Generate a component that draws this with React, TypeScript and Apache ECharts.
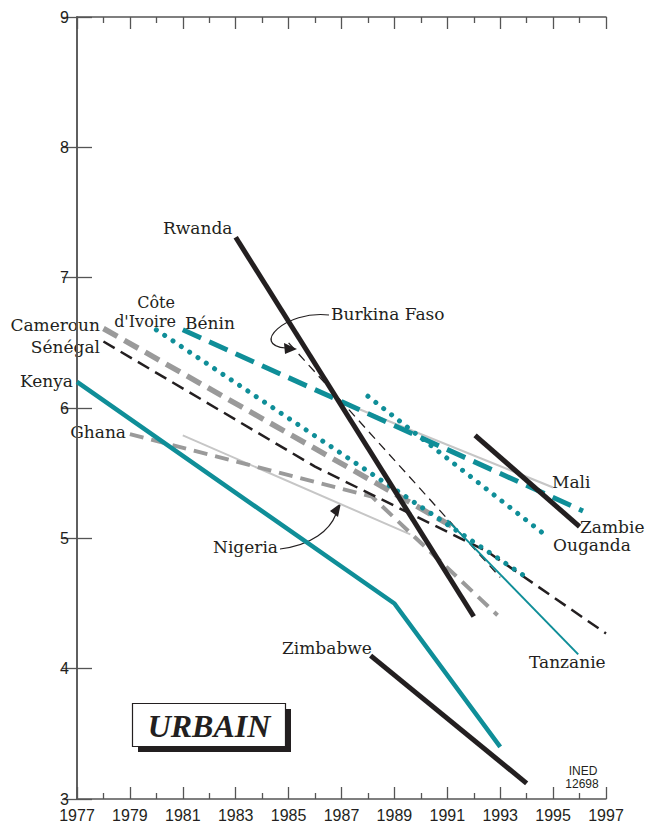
import React, { useEffect, useRef } from "react";
import * as echarts from "echarts";

const BASE_YEAR = 1977;
const xTickYears = [1977, 1979, 1981, 1983, 1985, 1987, 1989, 1991, 1993, 1995, 1997];
const yTicks = [3, 4, 5, 6, 7, 8, 9];

const rwandaYears = [1983, 1992];
const rwandaTFR = [7.31, 4.4];
const kenyaYears = [1977, 1989, 1993];
const kenyaTFR = [6.2, 4.5, 3.4];
const zimbabweYears = [1988.1, 1994];
const zimbabweTFR = [4.1, 3.12];
const zambieYears = [1992.05, 1996];
const zambieTFR = [5.79, 5.09];
const beninYears = [1981, 1996.13];
const beninTFR = [6.6, 5.21];
const maliYears = [1986.95, 1995];
const maliTFR = [6.05, 5.39];
const ougandaYears = [1988, 1994.8];
const ougandaTFR = [6.09, 5.01];
const coteIvoireYears = [1980, 1994];
const coteIvoireTFR = [6.6, 4.7];
const tanzanieYears = [1991, 1995.95];
const tanzanieTFR = [5.14, 4.11];
const camerounYears = [1978, 1991.2];
const camerounTFR = [6.61, 5.09];
const senegalYears = [1978, 1986, 1992.5, 1997];
const senegalTFR = [6.51, 5.55, 4.9, 4.27];
const burkinaYears = [1985, 1993];
const burkinaTFR = [6.5, 4.7];
const ghanaYears = [1979, 1988.15, 1992.9];
const ghanaTFR = [5.8, 5.32, 4.41];
const nigeriaYears = [1981, 1989.6];
const nigeriaTFR = [5.79, 5.03];

const TEAL = "#0f8e98";
const BLACK = "#231f20";
const GRAY = "#9a9a9a";
const LIGHT = "#c6c6c6";

const pts = (years: number[], vals: number[]) =>
  years.map((y, i) => [y - BASE_YEAR, vals[i]]);

function line(name: string, years: number[], vals: number[], lineStyle: any) {
  return {
    name,
    type: "line",
    data: pts(years, vals),
    symbol: "none",
    silent: true,
    lineStyle,
  };
}

const SERIF = "DejaVu Serif";

function label(text: string, x: number, y: number, align = "left", size = 17) {
  return {
    type: "text",
    x,
    y,
    silent: true,
    style: {
      text,
      fontFamily: SERIF,
      fontSize: size,
      fill: BLACK,
      textAlign: align,
      textVerticalAlign: "middle",
      verticalAlign: "middle",
    },
  };
}

export default function App() {
  const ref = useRef<HTMLDivElement>(null);

  useEffect(() => {
    if (!ref.current) return;
    const chart = echarts.init(ref.current, null, { renderer: "svg" });

    const axisLine = { show: true, lineStyle: { color: "#555", width: 1.5 } };
    const xCommon = {
      type: "value",
      min: 0,
      max: xTickYears[xTickYears.length - 1] - BASE_YEAR,
      interval: 2,
      splitLine: { show: false },
      axisLine,
      axisTick: { show: true, inside: true, length: 12, lineStyle: { color: "#555", width: 1.3 } },
      minorTick: { show: true, splitNumber: 2, length: 6, lineStyle: { color: "#555", width: 1.3 } },
      minorSplitLine: { show: false },
    };
    const yCommon = {
      type: "value",
      min: yTicks[0],
      max: yTicks[yTicks.length - 1],
      interval: 1,
      splitLine: { show: false },
      axisLine,
      axisTick: { show: true, inside: true, length: 15, lineStyle: { color: "#555", width: 1.3 } },
    };

    chart.setOption({
      animation: false,
      grid: { left: 77, right: 47, top: 17, bottom: 24, containLabel: false },
      xAxis: [
        {
          ...xCommon,
          position: "bottom",
          axisLabel: {
            show: true,
            margin: 8,
            fontFamily: "Liberation Sans",
            fontSize: 16,
            color: BLACK,
            formatter: (v: number) => String(v + BASE_YEAR),
          },
        },
        { ...xCommon, position: "top", axisLabel: { show: false } },
      ],
      yAxis: [
        {
          ...yCommon,
          position: "left",
          axisLabel: {
            show: true,
            margin: 8,
            fontFamily: "Liberation Sans",
            fontSize: 16,
            color: BLACK,
          },
        },
        { ...yCommon, position: "right", axisLabel: { show: false } },
      ],
      series: [
        line("Nigeria", nigeriaYears, nigeriaTFR, { color: LIGHT, width: 2 }),
        line("Mali", maliYears, maliTFR, { color: LIGHT, width: 2.2 }),
        line("Ghana", ghanaYears, ghanaTFR, { color: GRAY, width: 4, type: [14, 8] }),
        line("Cameroun", camerounYears, camerounTFR, { color: GRAY, width: 5.5, type: [16, 8] }),
        line("Sénégal", senegalYears, senegalTFR, { color: BLACK, width: 2.5, type: [13, 7] }),
        line("Burkina Faso", burkinaYears, burkinaTFR, { color: BLACK, width: 1.3, type: [9, 6] }),
        line("Côte d'Ivoire", coteIvoireYears, coteIvoireTFR, { color: TEAL, width: 5, type: [0.01, 10], cap: "round" }),
        line("Ouganda", ougandaYears, ougandaTFR, { color: TEAL, width: 5, type: [0.01, 10], cap: "round" }),
        line("Bénin", beninYears, beninTFR, { color: TEAL, width: 5, type: [20, 9] }),
        line("Tanzanie", tanzanieYears, tanzanieTFR, { color: TEAL, width: 2 }),
        line("Kenya", kenyaYears, kenyaTFR, { color: TEAL, width: 4.5 }),
        line("Rwanda", rwandaYears, rwandaTFR, { color: BLACK, width: 5 }),
        line("Zambie", zambieYears, zambieTFR, { color: BLACK, width: 5 }),
        line("Zimbabwe", zimbabweYears, zimbabweTFR, { color: BLACK, width: 5 }),
      ],
      graphic: [
        label("Rwanda", 163, 228),
        label("Côte", 175, 302, "right", 16),
        label("d'Ivoire", 176, 321, "right", 16),
        label("Bénin", 185, 323),
        label("Cameroun", 100, 325, "right"),
        label("Sénégal", 100, 347, "right"),
        label("Kenya", 73, 381, "right"),
        label("Ghana", 126, 432, "right"),
        label("Burkina Faso", 331, 314),
        label("Nigeria", 213, 547),
        label("Mali", 552, 482),
        label("Zambie", 580, 527),
        label("Ouganda", 553, 545),
        label("Tanzanie", 529, 662),
        label("Zimbabwe", 282, 648),
        {
          type: "bezierCurve",
          silent: true,
          shape: { x1: 329, y1: 315, cpx1: 285, cpy1: 310, cpx2: 250, cpy2: 346, x2: 286, y2: 348 },
          style: { stroke: BLACK, lineWidth: 1.2, fill: null },
        },
        {
          type: "polygon",
          silent: true,
          shape: { points: [[297, 349], [284, 343], [285, 354]] },
          style: { fill: BLACK },
        },
        {
          type: "bezierCurve",
          silent: true,
          shape: { x1: 280, y1: 549, cpx1: 312, cpy1: 545, cpx2: 330, cpy2: 530, x2: 336, y2: 514 },
          style: { stroke: BLACK, lineWidth: 1.2, fill: null },
        },
        {
          type: "polygon",
          silent: true,
          shape: { points: [[341, 503], [338, 517], [330, 511]] },
          style: { fill: BLACK },
        },
        {
          type: "rect",
          silent: true,
          shape: { x: 138, y: 709, width: 153, height: 43 },
          style: { fill: BLACK },
        },
        {
          type: "rect",
          silent: true,
          shape: { x: 132.5, y: 703.5, width: 153, height: 43 },
          style: { fill: "#fff", stroke: BLACK, lineWidth: 1.2 },
        },
        {
          type: "text",
          silent: true,
          x: 209,
          y: 726,
          style: {
            text: "URBAIN",
            fontFamily: "Liberation Serif",
            fontSize: 32,
            fontWeight: "bold",
            fontStyle: "italic",
            fill: BLACK,
            textAlign: "center",
            textVerticalAlign: "middle",
            verticalAlign: "middle",
          },
        },
        {
          type: "text",
          silent: true,
          x: 583,
          y: 771,
          style: {
            text: "INED",
            fontFamily: "Liberation Sans",
            fontSize: 12,
            fill: BLACK,
            textAlign: "center",
            textVerticalAlign: "middle",
            verticalAlign: "middle",
          },
        },
        {
          type: "text",
          silent: true,
          x: 582,
          y: 784,
          style: {
            text: "12698",
            fontFamily: "Liberation Sans",
            fontSize: 12,
            fill: BLACK,
            textAlign: "center",
            textVerticalAlign: "middle",
            verticalAlign: "middle",
          },
        },
      ],
    });

    return () => chart.dispose();
  }, []);

  return (
    <div
      ref={ref}
      style={{ position: "fixed", left: 0, top: 0, width: 653, height: 823, background: "#fff" }}
    />
  );
}
